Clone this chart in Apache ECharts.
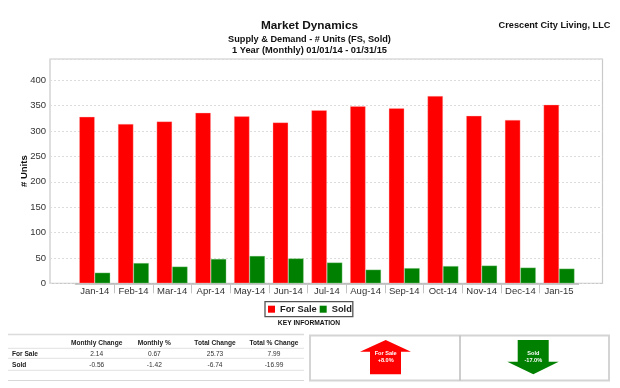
<!DOCTYPE html>
<html><head><meta charset="utf-8">
<style>html,body{margin:0;padding:0;background:#fff}#c{width:620px;height:388px}</style>
<script src="https://cdn.jsdelivr.net/npm/echarts@6/dist/echarts.min.js"></script>
</head><body><div id="c"></div>
<script>
const categories = ['Jan-14','Feb-14','Mar-14','Apr-14','May-14','Jun-14','Jul-14','Aug-14','Sep-14','Oct-14','Nov-14','Dec-14','Jan-15'];
const forSale = [328,314,319,336,329,317,341,349,345,369,330,322,352];
const sold = [21,40,33,48,54,49,41,27,30,34,35,31,29];
const tableHeaders = ['Monthly Change','Monthly %','Total Change','Total % Change'];
const tableForSale = ['2.14','0.67','25.73','7.99'];
const tableSold = ['-0.56','-1.42','-6.74','-16.99'];
const FONT = '"Liberation Sans", Arial, sans-serif';

const chart = echarts.init(document.getElementById('c'), null, {renderer:'canvas'});
const txt = (x,y,text,size,bold,color,align) => ({type:'text',x,y,silent:true,style:{
  text,x:0,y:0,align:align||'center',verticalAlign:'middle',fill:color||'#111',
  font:(bold?'bold ':'')+size+'px '+FONT}});
const rule = (x1,x2,y,c,w) => ({type:'line',silent:true,shape:{x1,y1:y,x2,y2:y},style:{stroke:c||'#e2e2e2',lineWidth:w||1}});
const colX = [96.7,154.3,215,274];
const g = [
  {type:'rect',silent:true,z:100,shape:{x:576,y:285,width:6,height:12},style:{fill:'#fff'}},
  txt(309.5,26,'Market Dynamics',11.8,true),
  txt(309.5,39.3,'Supply & Demand - # Units (FS, Sold)',9.2,true),
  txt(309.5,50.7,'1 Year (Monthly) 01/01/14 - 01/31/15',9.3,true),
  txt(554.5,25,'Crescent City Living, LLC',9.2,true),
  txt(309,323.3,'KEY INFORMATION',6.7,true),
  rule(8,304,334.5,'#dcdcdc',1.5),rule(8,304,348.3),rule(8,304,358.3),rule(8,304,370.3),rule(8,304,380.5,'#d8d8d8',1),
  txt(12,353.7,'For Sale',6.6,true,'#222','left'),
  txt(12,364.7,'Sold',6.6,true,'#222','left'),
  {type:'rect',silent:true,shape:{x:310,y:335.5,width:299,height:45},style:{fill:'#fff',stroke:'#d4d4d4',lineWidth:2}},
  {type:'line',silent:true,shape:{x1:460,y1:335.5,x2:460,y2:380.5},style:{stroke:'#bdbdbd',lineWidth:1.5}},
  {type:'polygon',silent:true,shape:{points:[[385.7,340],[411,351.7],[401,351.7],[401,374.3],[370,374.3],[370,351.7],[360,351.7]]},style:{fill:'#ff0000'}},
  {type:'polygon',silent:true,shape:{points:[[517.7,340],[548.7,340],[548.7,361.7],[558.7,361.7],[533.3,374.3],[507.3,361.7],[517.7,361.7]]},style:{fill:'#008000'}},
  txt(385.7,353.7,'For Sale',5.6,true,'#fff'),
  txt(385.7,360.8,'+8.0%',5.6,true,'#fff'),
  txt(533.3,353.7,'Sold',5.6,true,'#fff'),
  txt(533.3,360.8,'-17.0%',5.6,true,'#fff')
];
tableHeaders.forEach((t,i)=>{
  g.push(txt(colX[i],343,t,6.6,true,'#222'));
  g.push(txt(colX[i],353.7,tableForSale[i],6.6,false,'#333'));
  g.push(txt(colX[i],364.7,tableSold[i],6.6,false,'#333'));
});

chart.setOption({
  animation:false,
  backgroundColor:'#fff',
  textStyle:{fontFamily:FONT},
  grid:[
    {left:50,top:59,width:552.5,height:224.3,show:true,borderColor:'#c9c9c9',borderWidth:1.2,backgroundColor:'#fff'},
    {left:75.4,top:59,width:503,height:224.3}
  ],
  legend:{
    left:265,top:301.7,itemWidth:7,itemHeight:7,itemGap:3,padding:[3,1,3,3],
    borderColor:'#555',borderWidth:1.3,backgroundColor:'#fff',
    icon:'rect',data:['For Sale','Sold'],
    itemStyle:{borderWidth:0},
    textStyle:{fontFamily:FONT,fontWeight:'bold',fontSize:9.3,color:'#222'}
  },
  xAxis:[
    {type:'value',gridIndex:0,min:0,max:1,show:false},
    {type:'category',gridIndex:1,data:categories,
      axisLine:{lineStyle:{color:'#b8b8b8',width:1.5}},
      axisTick:{show:true,length:10,lineStyle:{color:'#c4c4c4'},interval:(i)=>i>0},
      axisLabel:{color:'#333',fontSize:9.5,margin:3,fontFamily:FONT,interval:0}}
  ],
  yAxis:[
    {type:'value',gridIndex:0,min:0,max:442,interval:50,
      name:'# Units',nameLocation:'middle',nameGap:21,nameRotate:90,nameMoveOverlap:false,
      nameTextStyle:{fontFamily:FONT,fontWeight:'bold',fontSize:9.5,color:'#111'},
      axisLine:{show:false},axisTick:{show:false},
      axisLabel:{color:'#333',fontSize:9.5,margin:4,fontFamily:FONT,showMaxLabel:false},
      splitLine:{show:true,lineStyle:{color:'#dcdcdc',type:[2,2],width:1}}},
    {type:'value',gridIndex:1,min:0,max:442,interval:50,show:false,splitLine:{show:false}}
  ],
  series:[
    {name:'For Sale',type:'bar',xAxisIndex:1,yAxisIndex:1,data:forSale,barGap:0,barCategoryGap:'20%',
      itemStyle:{color:'#ff0000',borderColor:'rgba(255,190,190,.7)',borderWidth:0.5}},
    {name:'Sold',type:'bar',xAxisIndex:1,yAxisIndex:1,data:sold,
      itemStyle:{color:'#008000',borderColor:'rgba(170,220,170,.7)',borderWidth:0.5}}
  ],
  graphic:{elements:g}
});
</script></body></html>
